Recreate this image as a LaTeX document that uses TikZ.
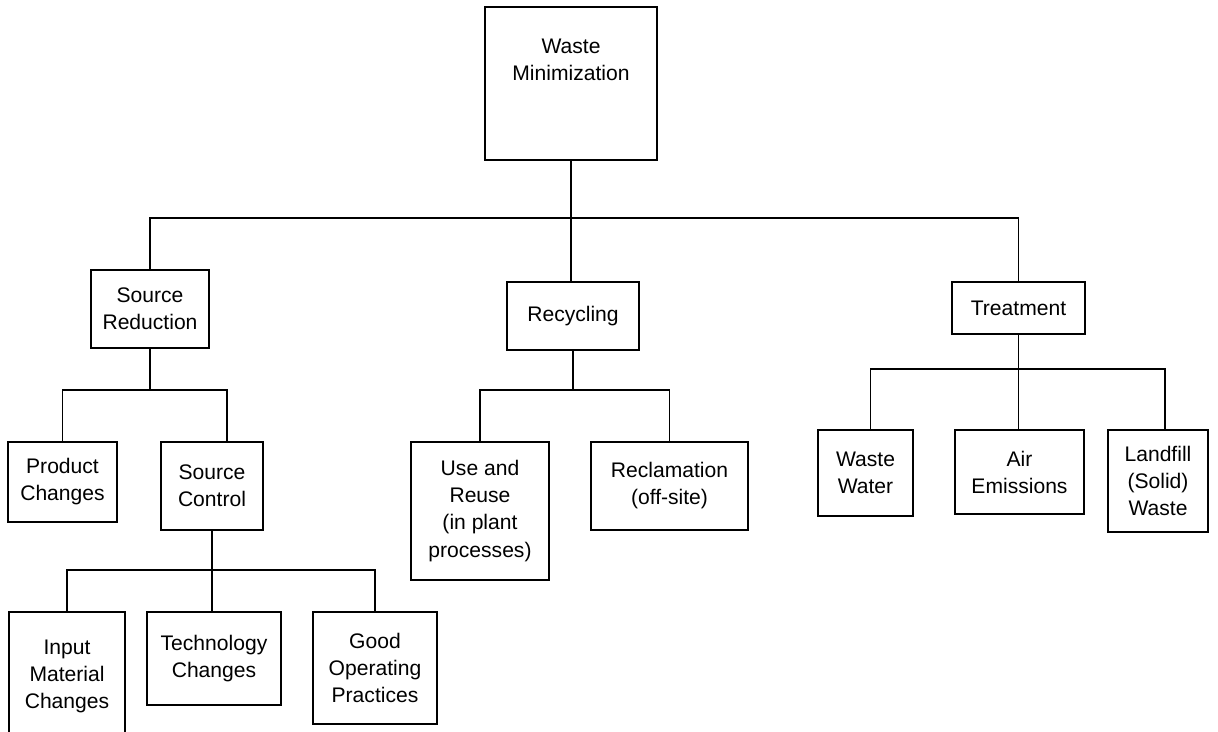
\documentclass[tikz,border=0pt]{standalone}
\usepackage{fontspec}
\setmainfont{Liberation Sans}

\tikzset{
  box/.style={draw, line width=1.1pt, align=center, inner sep=0pt,
    font=\fontsize{12}{15.4}\selectfont},
  link/.style={line width=1.1pt}
}

\begin{document}
\begin{tikzpicture}[x=0.02cm, y=-0.02cm]
        \clip (0,0) rectangle (1218,732);

        \node[box, minimum width=3.44cm, minimum height=3.06cm] (root) at (571,83.5) {};
        \node[align=center, inner sep=0pt, font=\fontsize{12}{15.4}\selectfont] (roottxt) at (571,60) {Waste\\Minimization};

        \node[box, minimum width=2.36cm, minimum height=1.56cm] (sred) at (150,309) {Source\\Reduction};
        \node[box, minimum width=2.64cm, minimum height=1.36cm] (recyc) at (573,316) {Recycling};
        \node[box, minimum width=2.66cm, minimum height=1.04cm] (treat) at (1018.5,308) {Treatment};

        \node[box, minimum width=2.18cm, minimum height=1.6cm] (prodchg) at (62.5,482) {Product\\Changes};
        \node[box, minimum width=2.04cm, minimum height=1.76cm] (srcctl) at (212,486) {Source\\Control};

        \node[box, minimum width=2.32cm, minimum height=2.56cm] (inmat) at (67,676) {Input\\Material\\Changes};
        \node[box, minimum width=2.68cm, minimum height=1.86cm] (techchg) at (214,658.5) {Technology\\Changes};
        \node[box, minimum width=2.48cm, minimum height=2.24cm] (goodop) at (375,668) {Good\\Operating\\Practices};

        \node[box, minimum width=2.76cm, minimum height=2.76cm] (reuse) at (480,511) {Use and\\Reuse\\(in plant\\processes)};
        \node[box, minimum width=3.14cm, minimum height=1.76cm] (reclam) at (669.5,486) {Reclamation\\(off-site)};

        \node[box, minimum width=1.9cm, minimum height=1.72cm] (wwater) at (865.5,473) {Waste\\Water};
        \node[box, minimum width=2.58cm, minimum height=1.68cm] (airem) at (1019.5,472) {Air\\Emissions};
        \node[box, minimum width=2.0cm, minimum height=2.04cm] (landf) at (1158,481) {Landfill\\(Solid)\\Waste};

        % Шины
        \coordinate (bustop) at (571,218);
        \coordinate (bussred) at (150,390);
        \coordinate (busctl) at (212,570);
        \coordinate (busrec) at (573,390);
        \coordinate (bustr) at (1018.5,369);

        % Линии
        \draw[link] (root.south) -- (bustop);
        \draw[link] (sred.north) |- (bustop) -| (treat.north);
        \draw[link] (bustop) -- (bustop |- recyc.north);

        \draw[link] (sred.south) -- (bussred);
        \draw[link] (prodchg.north) |- (bussred) -| ([xshift=0.3cm]srcctl.north);

        \draw[link] (srcctl.south) -- (busctl);
        \draw[link] (inmat.north) |- (busctl) -| (goodop.north);
        \draw[link] (busctl) -- (busctl |- techchg.north);

        \draw[link] (recyc.south) -- (busrec);
        \draw[link] (reuse.north) |- (busrec) -| (reclam.north);

        \draw[link] (treat.south) -- (bustr);
        \draw[link] ([xshift=0.1cm]wwater.north) |- (bustr) -| ([xshift=0.14cm]landf.north);
        \draw[link] (bustr) -- (bustr |- airem.north);
    \end{tikzpicture}
\end{document}
